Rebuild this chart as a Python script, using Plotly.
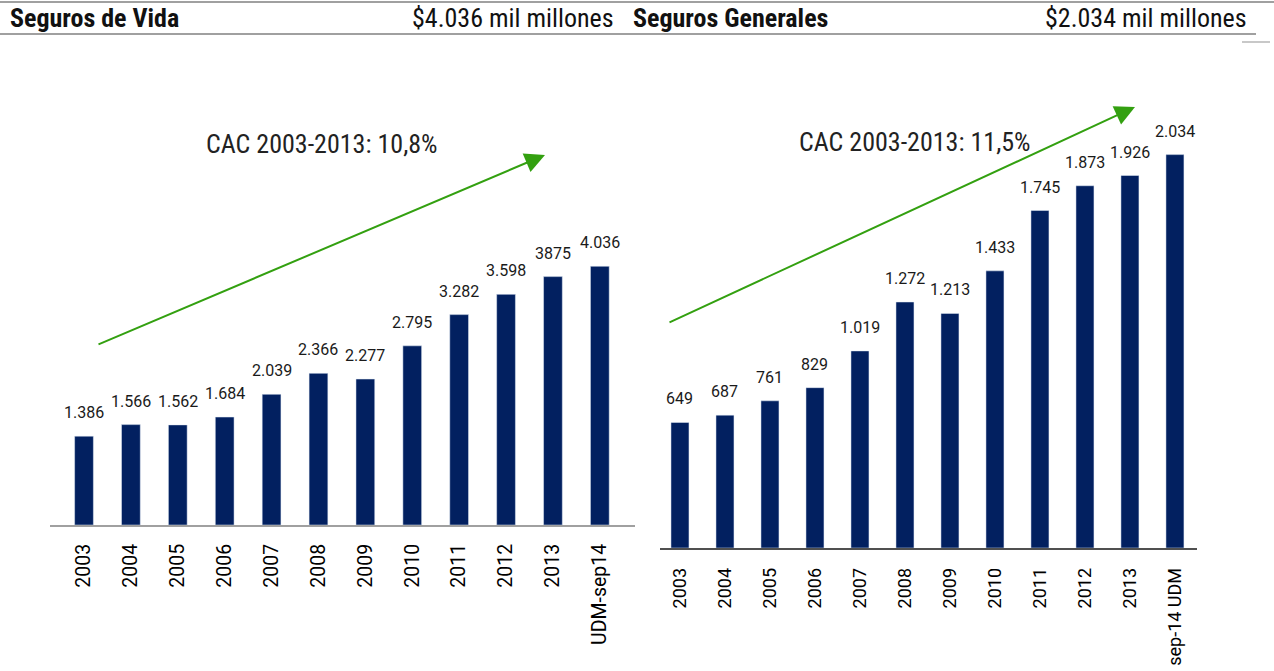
import plotly.graph_objects as go

# ---------------- data ----------------
vida_categories = ["2003", "2004", "2005", "2006", "2007", "2008", "2009",
                   "2010", "2011", "2012", "2013", "UDM-sep14"]
vida_values = [1386, 1566, 1562, 1684, 2039, 2366, 2277, 2795, 3282, 3598, 3875, 4036]
vida_labels = ["1.386", "1.566", "1.562", "1.684", "2.039", "2.366", "2.277",
               "2.795", "3.282", "3.598", "3875", "4.036"]

gen_categories = ["2003", "2004", "2005", "2006", "2007", "2008", "2009",
                  "2010", "2011", "2012", "2013", "sep-14 UDM"]
gen_values = [649, 687, 761, 829, 1019, 1272, 1213, 1433, 1745, 1873, 1926, 2034]
gen_labels = ["649", "687", "761", "829", "1.019", "1.272", "1.213",
              "1.433", "1.745", "1.873", "1.926", "2.034"]

header_left = ["Seguros de Vida", "$4.036 mil millones"]
header_right = ["Seguros Generales", "$2.034 mil millones"]
cac_left = "CAC 2003-2013: 10,8%"
cac_right = "CAC 2003-2013: 11,5%"

# ---------------- style ----------------
W, H = 1274, 671
BAR = "#022060"
GREEN = "#33A010"
NARROW = "Liberation Sans Narrow, Arial Narrow, Roboto Condensed, Liberation Sans, sans-serif"
LBL = "Roboto, Carlito, Calibri, Noto Sans, sans-serif"


def px(x):
    return x / W


def py(y):
    return 1 - y / H


fig = go.Figure()

fig.add_trace(go.Bar(x=list(range(len(vida_categories))), y=vida_values, marker_color=BAR,
                     width=0.40, xaxis="x", yaxis="y", hoverinfo="y"))
fig.add_trace(go.Bar(x=list(range(len(gen_categories))), y=gen_values, marker_color=BAR,
                     width=0.40, xaxis="x2", yaxis="y2", hoverinfo="y"))

annotations = []
for i, (v, t) in enumerate(zip(vida_values, vida_labels)):
    annotations.append(dict(x=i, y=v, xref="x", yref="y", text=t, showarrow=False,
                            xanchor="center", yanchor="bottom", yshift=12,
                            font=dict(family=LBL, size=16, color="#1a1a1a")))
for i, (v, t) in enumerate(zip(gen_values, gen_labels)):
    annotations.append(dict(x=i, y=v, xref="x2", yref="y2", text=t, showarrow=False,
                            xanchor="center", yanchor="bottom", yshift=12,
                            font=dict(family=LBL, size=16, color="#1a1a1a")))

# CAC texts
annotations.append(dict(x=px(322), y=py(144), xref="paper", yref="paper", text=cac_left,
                        xanchor="center", yanchor="middle",
                        showarrow=False, font=dict(family=NARROW, size=26, color="#222")))
annotations.append(dict(x=px(915), y=py(142), xref="paper", yref="paper", text=cac_right,
                        xanchor="center", yanchor="middle",
                        showarrow=False, font=dict(family=NARROW, size=26, color="#222")))

# Arrows
annotations.append(dict(x=px(545), y=py(155), xref="paper", yref="paper", text="",
                        showarrow=True, ax=97 - 545, ay=345 - 155, axref="pixel", ayref="pixel",
                        arrowhead=2, arrowsize=2.0, arrowwidth=2, arrowcolor=GREEN))
annotations.append(dict(x=px(1135), y=py(107), xref="paper", yref="paper", text="",
                        showarrow=True, ax=668 - 1135, ay=323 - 107, axref="pixel", ayref="pixel",
                        arrowhead=2, arrowsize=2.0, arrowwidth=2, arrowcolor=GREEN))

# Header texts
hfont = dict(family=NARROW, size=26, color="#111")
annotations.append(dict(x=px(8), y=py(18), xref="paper", yref="paper", text="<b>" + header_left[0] + "</b>",
                        xanchor="left", yanchor="middle", showarrow=False, font=hfont))
annotations.append(dict(x=px(616), y=py(18), xref="paper", yref="paper", text=header_left[1],
                        xanchor="right", yanchor="middle", showarrow=False, font=hfont))
annotations.append(dict(x=px(631), y=py(18), xref="paper", yref="paper", text="<b>" + header_right[0] + "</b>",
                        xanchor="left", yanchor="middle", showarrow=False, font=hfont))
annotations.append(dict(x=px(1249), y=py(18), xref="paper", yref="paper", text=header_right[1],
                        xanchor="right", yanchor="middle", showarrow=False, font=hfont))

shapes = [
    dict(type="line", xref="paper", yref="paper", x0=0, x1=1, y0=py(2), y1=py(2),
         line=dict(color="#A0A0A0", width=2)),
    dict(type="line", xref="paper", yref="paper", x0=0, x1=px(1256), y0=py(34), y1=py(34),
         line=dict(color="#A0A0A0", width=2)),
    dict(type="line", xref="paper", yref="paper", x0=px(1242), x1=px(1270), y0=py(42), y1=py(42),
         line=dict(color="#C8C8C8", width=2)),
]

# Axis geometry
L_BASE, L_TOP = 525, 100
R_BASE, R_TOP = 548, 100

fig.update_layout(
    width=W, height=H,
    margin=dict(l=0, r=0, t=0, b=0, autoexpand=False),
    paper_bgcolor="white", plot_bgcolor="white",
    showlegend=False,
    font=dict(family=LBL),
    xaxis=dict(domain=[px(50), px(635)], range=[-0.725, 11.75], automargin=False,
               tickmode="array", tickvals=list(range(len(vida_categories))), ticktext=vida_categories,
               tickangle=-90, tickfont=dict(family=LBL, size=19.5, color="#000"),
               showgrid=False, zeroline=False,
               showline=True, linecolor="#A0A0A0", linewidth=2,
               ticks="outside", ticklen=9, tickcolor="rgba(0,0,0,0)",
               anchor="y"),
    yaxis=dict(domain=[py(L_BASE), py(L_TOP)], range=[0, (L_BASE - L_TOP) / 0.0641],
               visible=False, anchor="x", automargin=False),
    xaxis2=dict(domain=[px(660), px(1197)], range=[-0.444, 11.49], automargin=False,
                tickmode="array", tickvals=list(range(len(gen_categories))), ticktext=gen_categories,
                tickangle=-90, tickfont=dict(family=LBL, size=18, color="#000"),
                showgrid=False, zeroline=False,
                showline=True, linecolor="#505050", linewidth=1.5,
                ticks="outside", ticklen=11, tickcolor="rgba(0,0,0,0)",
                anchor="y2"),
    yaxis2=dict(domain=[py(R_BASE), py(R_TOP)], range=[0, (R_BASE - R_TOP) / 0.1934],
                visible=False, anchor="x2", automargin=False),
    annotations=annotations,
    shapes=shapes,
)

fig.write_html("out.html", config={"displayModeBar": False},
               post_script="document.body.style.margin='0';")
